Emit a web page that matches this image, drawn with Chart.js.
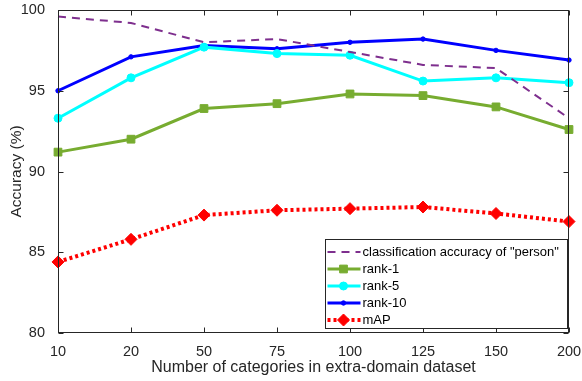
<!DOCTYPE html>
<html lang="en">
<head>
  <meta charset="UTF-8">
  <title>Accuracy vs number of categories</title>
  <script src="https://cdn.jsdelivr.net/npm/chart.js"></script>
  <style>
    html, body { margin: 0; padding: 0; background: #fff; }
    #wrap { width: 582px; height: 381px; }
  </style>
</head>
<body>
  <div id="wrap"><canvas id="accChart" width="582" height="381"></canvas></div>

  <script>
    const categories = ['10', '20', '50', '75', '100', '125', '150', '200'];
    const personAcc = [99.6, 99.2, 98.0, 98.2, 97.4, 96.6, 96.4, 93.3];
    const rank1 = [91.2, 92.0, 93.9, 94.2, 94.8, 94.7, 94.0, 92.6];
    const rank5 = [93.3, 95.8, 97.7, 97.3, 97.2, 95.6, 95.8, 95.5];
    const rank10 = [95.0, 97.1, 97.8, 97.6, 98.0, 98.2, 97.5, 96.9];
    const mAP = [84.4, 85.8, 87.3, 87.6, 87.7, 87.8, 87.4, 86.9];
    const yTicks = [80, 85, 90, 95, 100];

    const axisColor = '#262626';
    const fontFamily = 'Liberation Sans, Arial, sans-serif';

    // box around the plot with inward ticks, like matlab
    const framePlugin = {
      id: 'frame',
      afterDatasetsDraw(chart) {
        const { ctx, chartArea: a, scales } = chart;
        ctx.save();
        ctx.strokeStyle = axisColor;
        ctx.lineWidth = 1;
        const l = Math.round(a.left) + 0.5, r = Math.round(a.right) - 0.5;
        const t = Math.round(a.top) + 0.5, b = Math.round(a.bottom) - 0.5;
        ctx.strokeRect(l, t, r - l, b - t);
        const len = 5;
        ctx.beginPath();
        scales.x.ticks.forEach((tk, i) => {
          const x = Math.round(scales.x.getPixelForTick(i)) + 0.5;
          ctx.moveTo(x, b); ctx.lineTo(x, b - len);
          ctx.moveTo(x, t); ctx.lineTo(x, t + len);
        });
        scales.y.ticks.forEach(tk => {
          const y = Math.round(scales.y.getPixelForValue(tk.value)) + 0.5;
          ctx.moveTo(l, y); ctx.lineTo(l + len, y);
          ctx.moveTo(r, y); ctx.lineTo(r - len, y);
        });
        ctx.stroke();
        ctx.restore();
      }
    };

    // legend drawn inside the plot, lower right
    const innerLegend = {
      id: 'innerLegend',
      afterDraw(chart) {
        const { ctx, chartArea: a } = chart;
        const sets = chart.data.datasets;
        const boxW = 242, rowH = 17;
        const boxH = 89;
        const x0 = Math.round(a.right) - boxW - 1.5, y0 = Math.round(a.bottom) - boxH - 4.5;
        ctx.save();
        ctx.fillStyle = '#fff';
        ctx.fillRect(x0, y0, boxW, boxH);
        ctx.strokeStyle = axisColor;
        ctx.lineWidth = 1;
        ctx.strokeRect(x0, y0, boxW, boxH);
        ctx.font = '13px ' + fontFamily;
        ctx.textBaseline = 'middle';
        sets.forEach((ds, i) => {
          const cy = y0 + 12.5 + i * rowH;
          ctx.strokeStyle = ds.borderColor;
          ctx.lineWidth = ds.borderWidth;
          ctx.setLineDash(ds.borderDash || []);
          ctx.beginPath();
          ctx.moveTo(x0 + 2, cy); ctx.lineTo(x0 + 35, cy);
          ctx.stroke();
          ctx.setLineDash([]);
          if (ds.pointRadius > 0) {
            ctx.fillStyle = ds.pointBackgroundColor;
            ctx.strokeStyle = ds.pointBorderColor;
            ctx.lineWidth = 1;
            Chart.helpers.drawPoint(ctx, {
              pointStyle: ds.pointStyle, radius: ds.pointRadius, rotation: 0, borderWidth: 1
            }, x0 + 18, cy);
          }
          ctx.fillStyle = '#000';
          ctx.fillText(ds.label, x0 + 37, cy + 0.5);
        });
        ctx.restore();
      }
    };

    function series(label, data, color, extra) {
      return Object.assign({
        label, data,
        borderColor: color,
        backgroundColor: color,
        pointBackgroundColor: color,
        pointBorderColor: color,
        pointBorderWidth: 1,
        borderWidth: 3,
        fill: false,
        tension: 0
      }, extra);
    }

    new Chart(document.getElementById('accChart'), {
      type: 'line',
      data: {
        labels: categories,
        datasets: [
          series('classification accuracy of "person"', personAcc, '#7E2F8E', { borderWidth: 2, borderDash: [8, 6], pointRadius: 0 }),
          series('rank-1', rank1, '#77AC30', { pointStyle: 'rect', pointRadius: 5.5 }),
          series('rank-5', rank5, '#00FFFF', { pointStyle: 'circle', pointRadius: 4 }),
          series('rank-10', rank10, '#0000FF', { pointStyle: 'circle', pointRadius: 2.2 }),
          series('mAP', mAP, '#FF0000', { borderWidth: 4, borderDash: [3, 3], pointStyle: 'rectRot', pointRadius: 6 })
        ]
      },
      options: {
        responsive: false,
        animation: false,
        layout: { padding: { top: 10, right: 13, left: 0, bottom: 0 } },
        plugins: { legend: { display: false }, tooltip: { enabled: false } },
        scales: {
          x: {
            offset: false,
            grid: { display: false },
            border: { display: false },
            ticks: { color: axisColor, font: { size: 14.5, family: fontFamily }, padding: 2, maxRotation: 0 },
            title: { display: true, text: 'Number of categories in extra-domain dataset', color: axisColor, font: { size: 16, family: fontFamily }, padding: { top: 2 } },
            afterFit(scale) { scale.height = 48; scale.paddingLeft = 0; scale.paddingRight = 0; }
          },
          y: {
            min: 80, max: 100,
            grid: { display: false },
            border: { display: false },
            afterBuildTicks(scale) { scale.ticks = yTicks.map(v => ({ value: v })); },
            ticks: { color: axisColor, font: { size: 14.5, family: fontFamily }, padding: 5 },
            title: { display: true, text: 'Accuracy (%)', color: axisColor, font: { size: 15.5, family: fontFamily }, padding: { top: 7, bottom: 0 } },
            afterFit(scale) { scale.width = 58; scale.paddingTop = 0; scale.paddingBottom = 0; }
          }
        }
      },
      plugins: [framePlugin, innerLegend]
    });
  </script>
</body>
</html>
